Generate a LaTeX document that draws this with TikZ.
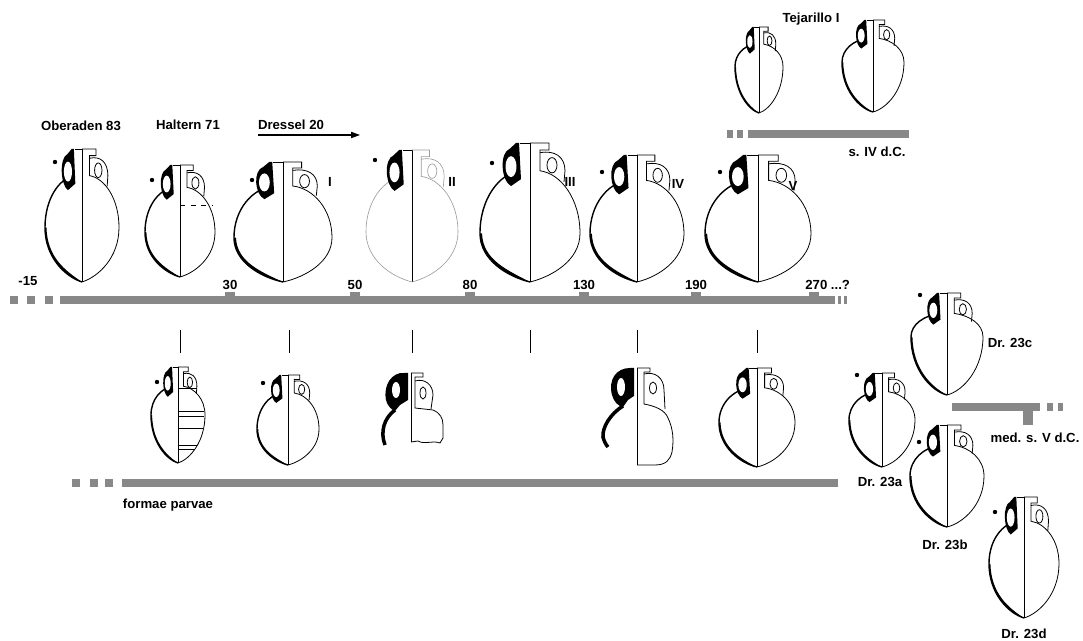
\documentclass[tikz,border=0pt]{standalone}
\usepackage{fontspec}
\setmainfont{Liberation Sans}
\usetikzlibrary{arrows.meta}
\definecolor{bargray}{RGB}{136,136,136}
\tikzset{
    shell/.style={line width=0.45pt},
    profile/.style={line width=0.8pt},
    midline/.style={line width=0.35pt},
    pale/.style={draw=black!40, line width=0.35pt, fill=none},
    bar/.style={fill=bargray},
    lbl/.style={font=\fontsize{7.5}{9}\selectfont\bfseries, inner sep=0pt},
}
% amphora: [style of body] {centre x}{top}{bottom}{half width}{widest point}
\newcommand{\amphora}[6][]{%
    \pgfmathsetmacro\amX{#2}%
    \pgfmathsetmacro\amT{#3}%
    \pgfmathsetmacro\amB{#4}%
    \pgfmathsetmacro\amH{#4-#3}%
    \pgfmathsetmacro\amW{#5}%
    \pgfmathsetmacro\amM{#3+#6*(#4-#3)}%
    \pgfmathsetmacro\amU{\amM-0.55*(\amM-#3-0.2*(#4-#3))}%
    \pgfmathsetmacro\amL{\amM+0.55*(#4-\amM)}%
    \draw[midline] (\amX,\amT) -- (\amX,\amB);
    % right half
    \draw[shell,#1] (\amX,\amT) -- ({\amX+0.38*\amW},\amT) -- ({\amX+0.38*\amW},{\amT+0.05*\amH}) -- ({\amX+0.2*\amW},{\amT+0.05*\amH}) -- ({\amX+0.2*\amW},{\amT+0.2*\amH}) .. controls ({\amX+0.62*\amW},{\amT+0.22*\amH}) and ({\amX+\amW},\amU) .. ({\amX+\amW},\amM) .. controls ({\amX+\amW},\amL) and ({\amX+0.45*\amW},{\amB-0.04*\amH}) .. (\amX,\amB);
    \draw[shell,#1] ({\amX+0.2*\amW},{\amT+0.07*\amH}) .. controls ({\amX+0.5*\amW},{\amT+0.05*\amH}) and ({\amX+0.7*\amW},{\amT+0.1*\amH}) .. ({\amX+0.7*\amW},{\amT+0.2*\amH}) -- ({\amX+0.68*\amW},{\amT+0.28*\amH});
    \draw[shell,#1] ({\amX+0.44*\amW},{\amT+0.16*\amH}) ellipse [x radius={0.1*\amW}, y radius={0.055*\amH}];
    % left half
    \draw[profile,#1] ({\amX-0.2*\amW},{\amT+0.2*\amH}) .. controls ({\amX-0.62*\amW},{\amT+0.22*\amH}) and ({\amX-\amW},\amU) .. ({\amX-\amW},\amM) .. controls ({\amX-\amW},\amL) and ({\amX-0.45*\amW},{\amB-0.04*\amH}) .. (\amX,\amB);
    \fill[#1, draw=none] ({\amX-\amW},\amM) .. controls ({\amX-\amW},\amL) and ({\amX-0.45*\amW},{\amB-0.04*\amH}) .. (\amX,\amB) .. controls ({\amX-0.45*\amW},{\amB-0.085*\amH}) and ({\amX-0.94*\amW},\amL) .. ({\amX-0.96*\amW},\amM) -- cycle;
    \draw[shell] ({\amX-0.2*\amW},\amT) -- (\amX,\amT);
    \fill ({\amX-0.22*\amW},\amT) -- ({\amX-0.18*\amW},{\amT+0.26*\amH}) -- ({\amX-0.38*\amW},{\amT+0.31*\amH}) .. controls ({\amX-0.58*\amW},{\amT+0.27*\amH}) and ({\amX-0.62*\amW},{\amT+0.07*\amH}) .. ({\amX-0.4*\amW},{\amT+0.04*\amH}) -- ({\amX-0.28*\amW},\amT) -- cycle;
    \fill[white] ({\amX-0.38*\amW},{\amT+0.17*\amH}) ellipse [x radius={0.11*\amW}, y radius={0.075*\amH}];
}

\begin{document}
\begin{tikzpicture}[x=0.02cm, y=-0.02cm]
    \useasboundingbox (0,0) rectangle (1083,641);

    % Titles
    \node[lbl] (oberaden) at (81,126) {Oberaden 83};
    \node[lbl] (haltern) at (188,125) {Haltern 71};
    \node[lbl] (dressel) at (291,125) {Dressel 20};
    \coordinate (arrS) at (258,135);
    \coordinate (arrE) at (360,135);
    \draw[line width=0.6pt, -{Triangle[length=5pt, width=3.5pt]}] (arrS) -- (arrE);
    \node[lbl] (tejarillo) at (811,19) {Tejarillo I};
    \node[lbl] (sIV) at (877,152) {s. IV d.C.};

    % Upper row
    \amphora{82}{149}{282}{37}{0.59}
    \amphora{180}{165}{277}{35}{0.6}
    \draw[shell, dashed] (180,205) -- (213,205);
    \amphora{283}{162}{282}{49}{0.63}
    \amphora[pale]{412}{150}{282}{46}{0.62}
    \amphora{530}{143}{282}{50}{0.65}
    \amphora{637}{155}{282}{47}{0.62}
    \amphora{758}{155}{282}{53}{0.62}
    \node[lbl] (rI) at (330,182) {I};
    \node[lbl] (rII) at (452,182) {II};
    \node[lbl] (rIII) at (570,182) {III};
    \node[lbl] (rIV) at (678,184) {IV};
    \node[lbl] (rV) at (793,186) {V};

    % Tejarillo I
    \amphora{759}{27}{113}{24}{0.46}
    \amphora{873}{20}{112}{31}{0.46}
    \fill[bar] (727,130) rectangle (733,138);
    \fill[bar] (737,130) rectangle (743,138);
    \fill[bar] (748,130) rectangle (909,138);

    % Timeline
    \foreach \x in {10,27,45} \fill[bar] (\x,296) rectangle (\x+8,304);
    \fill[bar] (60,296) rectangle (835,304);
    \fill[bar] (838,296) rectangle (841,304);
    \fill[bar] (844,296) rectangle (847,304);
    \foreach \x in {230,355,470,584,696,814} \fill[bar] (\x-5,292) rectangle (\x+5,297);
    \node[lbl] (y15) at (28,281) {-15};
    \node[lbl] (y30) at (230,285) {30};
    \node[lbl] (y50) at (355,285) {50};
    \node[lbl] (y80) at (470,285) {80};
    \node[lbl] (y130) at (584,285) {130};
    \node[lbl] (y190) at (696,285) {190};
    \node[lbl, anchor=west] (y270) at (805,285) {270 ...?};
    \foreach \x in {180,289,412,530,637,757} \draw[midline] (\x,330) -- (\x,353);

    % Lower row, formae parvae
    \amphora{178}{367}{463}{27}{0.5}
    \foreach \y/\e in {388/197, 411/204, 416/204, 428/203, 445/197, 449/195} \draw[shell] (178,\y) -- (\e,\y);
    \amphora{288}{375}{465}{31}{0.6}
    % fragment under II
    \draw[midline] (411,373) -- (411,442);
    \fill (408,373) -- (404,373) .. controls (392,372) and (383,385) .. (386,400) .. controls (388,407) and (392,410) .. (395,411) -- (400,405) -- (408,400) -- cycle;
    \fill[white] (396,390) ellipse [x radius=4, y radius=8];
    \draw[line width=2pt] (395,410) .. controls (384,418) and (380,432) .. (385,445);
    \draw[shell] (411,373) -- (423,373) -- (423,377) -- (415,377) -- (415,408) -- (433,410) .. controls (440,413) and (443,418) .. (443,425) -- (443,438) -- (440,443) .. controls (432,440) and (425,445) .. (418,441) -- (411,442);
    \draw[shell] (415,381) .. controls (425,378) and (433,385) .. (433,395) -- (431,409);
    \draw[shell] (423,393) ellipse [x radius=3, y radius=6];
    % fragment under IV
    \draw[midline] (637,368) -- (637,465);
    \fill (634,368) -- (630,368) .. controls (616,368) and (608,380) .. (612,395) .. controls (614,402) and (618,406) .. (623,407) -- (628,400) -- (634,396) -- cycle;
    \fill[white] (621,387) ellipse [x radius=4, y radius=9];
    \draw[line width=2pt] (623,406) .. controls (610,414) and (602,428) .. (603,437) .. controls (604,441) and (606,445) .. (608,447);
    \draw[shell] (637,368) -- (650,368) -- (650,372) -- (644,372) -- (644,404) .. controls (655,406) and (665,410) .. (668,418) .. controls (673,428) and (674,440) .. (672,452) .. controls (670,460) and (666,465) .. (655,465) -- (637,465);
    \draw[shell] (644,374) .. controls (655,371) and (664,378) .. (664,390) -- (665,409);
    \draw[shell] (653,388) ellipse [x radius=3.5, y radius=6];
    \amphora{757}{368}{467}{38}{0.55}
    \foreach \x in {72,90,105} \fill[bar] (\x,479) rectangle (\x+8,487);
    \fill[bar] (122,479) rectangle (838,487);
    \node[lbl] (parvae) at (168,505) {formae parvae};

    % Dressel 23
    \amphora{947}{293}{395}{36}{0.43}
    \amphora{882}{373}{467}{33}{0.5}
    \amphora{947}{425}{527}{37}{0.5}
    \amphora{1024}{497}{618}{35}{0.55}
    \fill[bar] (952,403) rectangle (1040,411);
    \fill[bar] (1023,403) rectangle (1033,425);
    \fill[bar] (1047,403) rectangle (1053,411);
    \fill[bar] (1058,403) rectangle (1063,411);
    \node[lbl] (d23c) at (1010,343) {Dr. 23c};
    \node[lbl] (d23a) at (880,482) {Dr. 23a};
    \node[lbl] (medV) at (1035,438) {med. s. V d.C.};
    \node[lbl] (d23b) at (945,545) {Dr. 23b};
    \node[lbl] (d23d) at (1024,634) {Dr. 23d};

    % Dots
    \foreach \x/\y in {55/162, 152/180, 252/180, 375/160, 492/163, 602/172, 720/172, 157/382, 263/383, 920/295, 857/375, 919/442, 995/512}
        \fill (\x,\y) circle [radius=2.2];
\end{tikzpicture}
\end{document}
